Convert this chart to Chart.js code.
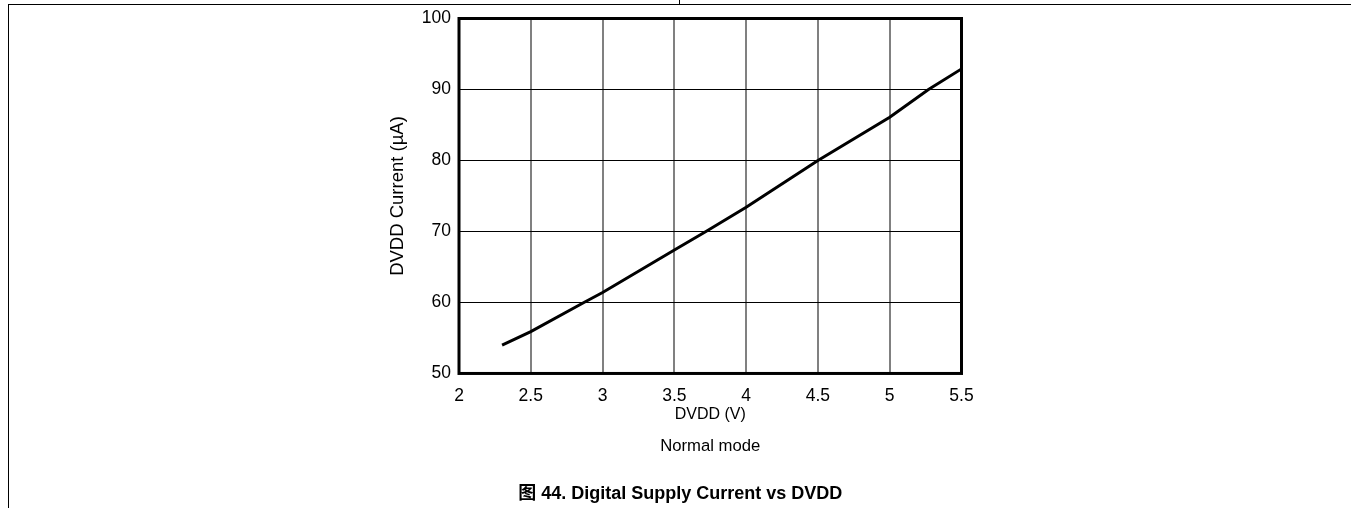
<!DOCTYPE html>
<html>
<head>
<meta charset="utf-8">
<script src="https://cdn.jsdelivr.net/npm/chart.js"></script>
<style>
  body { margin: 0; background: #fff; }
  #wrap { position: relative; width: 1351px; height: 508px; overflow: hidden; }
  #canvas { position: absolute; left: 0; top: 0; }
  .rule { position: absolute; background: #000; }
</style>
</head>
<body>
<div id="wrap">
  <div class="rule" style="left:8px; top:4px; width:1343px; height:1px;"></div>
  <div class="rule" style="left:8px; top:4px; width:1px; height:504px;"></div>
  <div class="rule" style="left:679px; top:0px; width:1px; height:5px;"></div>
  <canvas id="canvas" width="1351" height="508"></canvas>
</div>
<script>
// values
var voltage = [2.3, 2.5, 2.87, 3, 3.5, 3.72, 4, 4.5, 5, 5.27, 5.5];
var current = [54.0, 55.9, 60, 61.4, 67.4, 70, 73.4, 80, 86.1, 90, 92.9];

var xTicks = [2, 2.5, 3, 3.5, 4, 4.5, 5, 5.5];
var yTicks = [50, 60, 70, 80, 90, 100];

var xTitle = 'DVDD (V)';
var yTitle = 'DVDD Current (\u00b5A)';
var modeLabel = 'Normal mode';
var caption = '\u56fe 44. Digital Supply Current vs DVDD';

var family = '"Liberation Sans", Arial, "Noto Sans CJK SC", sans-serif';

function points(){
  var pts = [];
  for (var i = 0; i < voltage.length; i++) {
    pts.push({x: voltage[i], y: current[i]});
  }
  return pts;
}

// thick box round the plot area
var plotFrame = {
  id: 'plotFrame',
  afterDatasetsDraw: function(chart){
    var a = chart.chartArea;
    var ctx = chart.ctx;
    ctx.save();
    ctx.strokeStyle = '#000';
    ctx.lineWidth = 3;
    ctx.strokeRect(a.left, a.top, a.right - a.left, a.bottom - a.top);
    ctx.restore();
  }
};

function chart(){
  var config = {
    type: 'scatter',
    data: {
      datasets: [{
        data: points(),
        showLine: true,
        borderColor: '#000',
        borderWidth: 3,
        pointRadius: 0,
        tension: 0
      }]
    },
    options: {
      responsive: false,
      animation: false,
      layout: {
        // left/right chosen so the full-width caption centres on the page column
        padding: {left: 399, top: 18, right: 389.5, bottom: 3}
      },
      plugins: {
        legend: {display: false},
        tooltip: {enabled: false},
        title: {
          display: true,
          position: 'bottom',
          fullSize: true,
          text: caption,
          color: '#000',
          font: {family: family, size: 18, weight: 'bold'},
          padding: {top: 0, bottom: 0}
        },
        subtitle: {
          display: true,
          position: 'bottom',
          fullSize: false,
          text: modeLabel,
          color: '#000',
          font: {family: family, size: 16.7, weight: 'normal'},
          padding: {top: 0, bottom: 27}
        }
      },
      scales: {
        x: {
          type: 'linear',
          min: xTicks[0],
          max: xTicks[xTicks.length - 1],
          afterBuildTicks: function(scale){
            scale.ticks = xTicks.map(function(v){ return {value: v}; });
          },
          afterFit: function(scale){ scale.height = 62.9; },
          border: {display: false},
          grid: {color: '#808080', lineWidth: 2, drawTicks: false},
          ticks: {
            color: '#000',
            padding: 12.5,
            maxRotation: 0,
            font: {family: family, size: 17.5},
            callback: function(v){ return String(v); }
          },
          title: {
            display: true,
            text: xTitle,
            color: '#000',
            font: {family: family, size: 16},
            padding: {top: 0, bottom: 11.8}
          }
        },
        y: {
          type: 'linear',
          min: yTicks[0],
          max: yTicks[yTicks.length - 1],
          afterBuildTicks: function(scale){
            scale.ticks = yTicks.map(function(v){ return {value: v}; });
          },
          afterFit: function(scale){ scale.width = 60; },
          border: {display: false},
          grid: {color: '#000', lineWidth: 1, drawTicks: false},
          ticks: {
            color: '#000',
            padding: 8,
            font: {family: family, size: 17.5},
            callback: function(v){ return String(v); }
          },
          title: {
            display: true,
            text: yTitle,
            color: '#000',
            font: {family: family, size: 18.5},
            padding: {top: -12, bottom: 0}
          }
        }
      }
    },
    plugins: [plotFrame]
  };

  window.myLine = new Chart(document.getElementById('canvas'), config);
}

chart();
</script>
</body>
</html>
